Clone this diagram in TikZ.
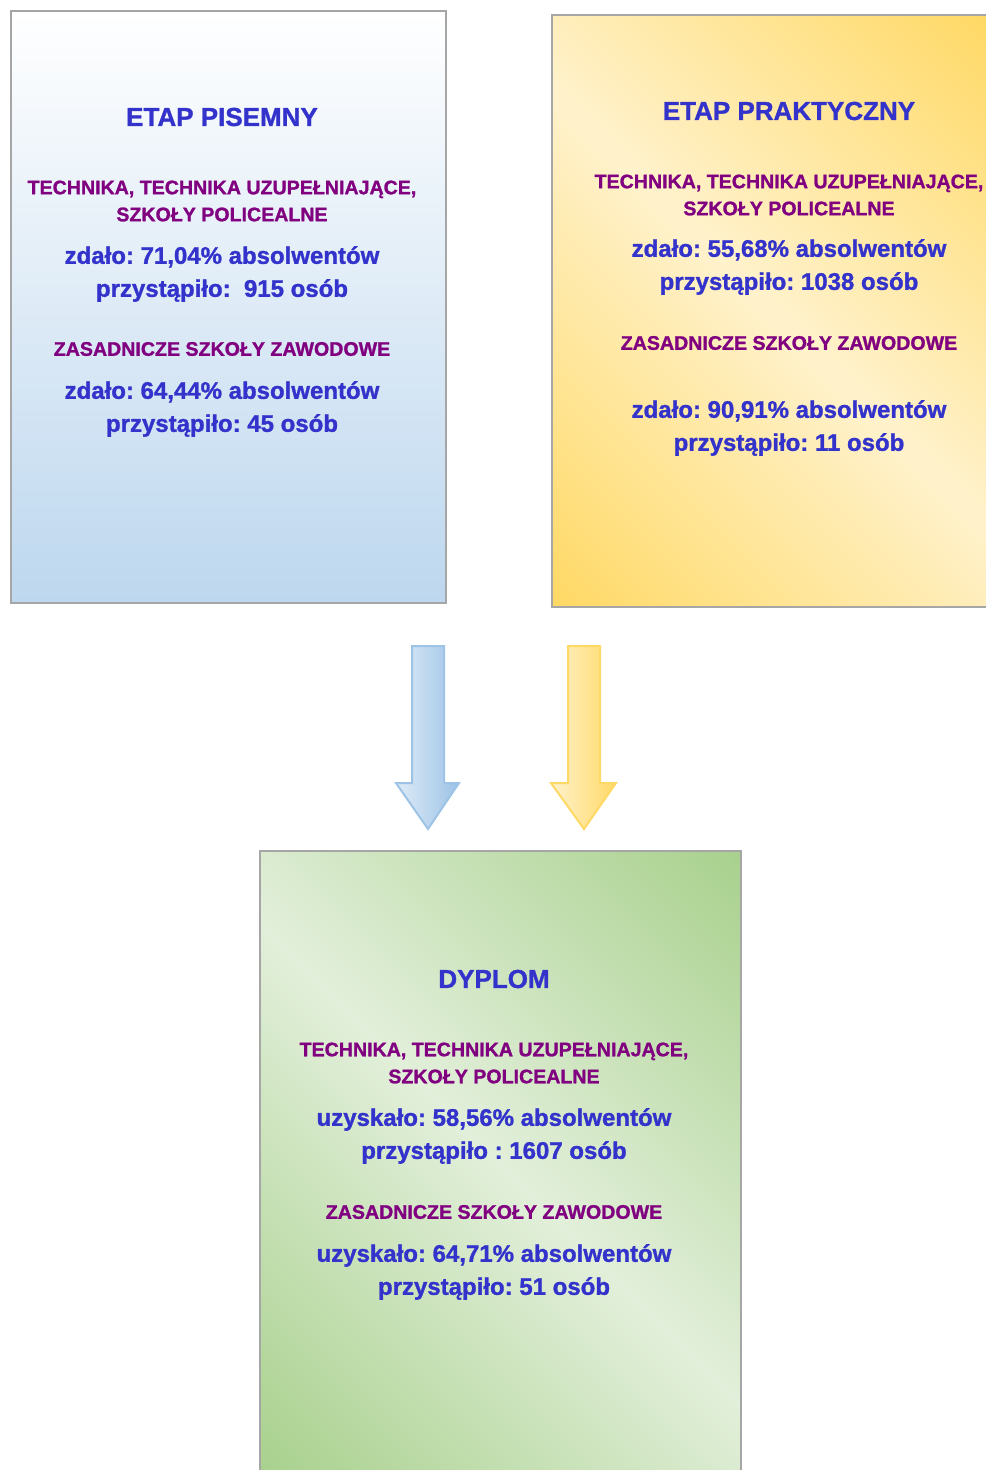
\documentclass[tikz,border=0pt]{standalone}
\usepackage{fontspec}
\setmainfont{Liberation Sans}[BoldFeatures={FakeBold=1.2}]
\usepackage{tikz}
\usetikzlibrary{positioning}
\definecolor{headblue}{HTML}{3333CC}
\definecolor{schoolpurple}{HTML}{800080}
\definecolor{framegray}{HTML}{A6A6A6}
\definecolor{paleblue}{HTML}{BDD7EE}
\definecolor{gold}{HTML}{FFD966}
\definecolor{cream}{HTML}{FFF2CC}
\definecolor{leafgreen}{HTML}{A9D18E}
\definecolor{palegreen}{HTML}{E2EFDA}
\definecolor{arrowblue}{HTML}{9DC3E6}
\definecolor{arrowbluelight}{HTML}{DEEBF7}
\pgfdeclarehorizontalshading{goldband}{100bp}{color(0bp)=(gold); color(15bp)=(gold); color(50bp)=(cream); color(85bp)=(gold); color(100bp)=(gold)}
\pgfdeclarehorizontalshading{greenband}{100bp}{color(0bp)=(leafgreen); color(15bp)=(leafgreen); color(50bp)=(palegreen); color(85bp)=(leafgreen); color(100bp)=(leafgreen)}
\frenchspacing

\begin{document}
\begin{tikzpicture}[x=0.75pt,y=-0.75pt,
  box/.style={draw=framegray,line width=1.5pt},
  stagetitle/.style={text=headblue,font=\fontsize{19.5}{23}\selectfont\bfseries},
  schooltype/.style={text=schoolpurple,align=center,font=\fontsize{14.7}{20.25}\selectfont\bfseries},
  result/.style={text=headblue,align=center,font=\fontsize{18}{24.75}\selectfont\bfseries}]
\useasboundingbox (0,0) rectangle (985,1470);

% boxes
\draw[box,top color=white,bottom color=paleblue] (11,11) rectangle (446,603);
\draw[box,shading=goldband,shading angle=45] (552,15) rectangle (992,607);
\draw[box,shading=greenband,shading angle=45] (260,851) rectangle (741,1476);

% arrows
\draw[draw=arrowblue,line width=1.5pt,left color=arrowbluelight,right color=arrowblue,line join=miter]
  (412,646) -- (444,646) -- (444,783) -- (459,783) -- (428,829) -- (396,783) -- (412,783) -- cycle;
\draw[draw=gold,line width=1.5pt,left color=cream,right color=gold,line join=miter]
  (568,646) -- (600,646) -- (600,783) -- (616,783) -- (584,829) -- (551,783) -- (568,783) -- cycle;

% etap pisemny
\node[stagetitle] (pisTitle) at (222,117) {ETAP PISEMNY};
\node[schooltype] (pisTech) at (222,201) {TECHNIKA, TECHNIKA UZUPEŁNIAJĄCE,\\SZKOŁY POLICEALNE};
\node[result] (pisTechRes) at (222,274) {zdało: 71,04\% absolwentów\\przystąpiło:\ \ 915 osób};
\node[schooltype] (pisZsz) at (222,349) {ZASADNICZE SZKOŁY ZAWODOWE};
\node[result] (pisZszRes) at (222,409) {zdało: 64,44\% absolwentów\\przystąpiło: 45 osób};

% etap praktyczny
\node[stagetitle] (prkTitle) at (789,111) {ETAP PRAKTYCZNY};
\node[schooltype] (prkTech) at (789,195) {TECHNIKA, TECHNIKA UZUPEŁNIAJĄCE,\\SZKOŁY POLICEALNE};
\node[result] (prkTechRes) at (789,267) {zdało: 55,68\% absolwentów\\przystąpiło: 1038 osób};
\node[schooltype] (prkZsz) at (789,343) {ZASADNICZE SZKOŁY ZAWODOWE};
\node[result] (prkZszRes) at (789,428) {zdało: 90,91\% absolwentów\\przystąpiło: 11 osób};

% dyplom
\node[stagetitle] (dypTitle) at (494,979) {DYPLOM};
\node[schooltype] (dypTech) at (494,1063) {TECHNIKA, TECHNIKA UZUPEŁNIAJĄCE,\\SZKOŁY POLICEALNE};
\node[result] (dypTechRes) at (494,1136) {uzyskało: 58,56\% absolwentów\\przystąpiło : 1607 osób};
\node[schooltype] (dypZsz) at (494,1212) {ZASADNICZE SZKOŁY ZAWODOWE};
\node[result] (dypZszRes) at (494,1272) {uzyskało: 64,71\% absolwentów\\przystąpiło: 51 osób};
\end{tikzpicture}
\end{document}
